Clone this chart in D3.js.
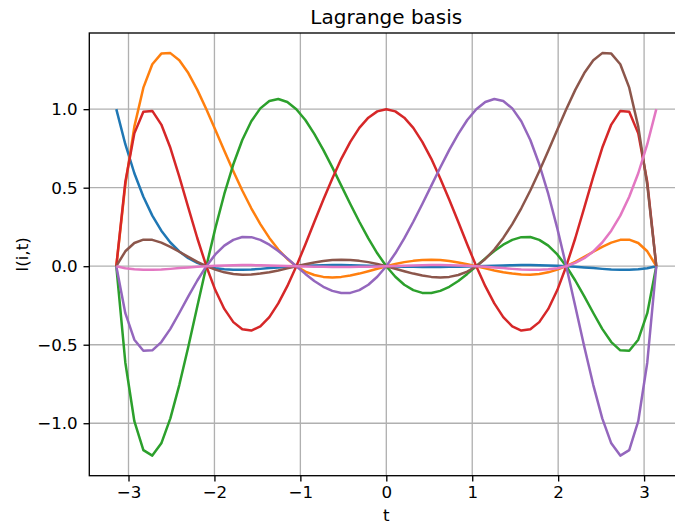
<!DOCTYPE html>
<html>
<head>
<meta charset="utf-8">
<script src="https://cdn.jsdelivr.net/npm/d3@7"></script>
<style>
  body { margin: 0; background: #fff; }
  svg { display: block; font-family: "DejaVu Sans", sans-serif; }
</style>
</head>
<body>
<div id="chart"></div>
<script>
// sample positions along t (61 points from -pi to pi)
const tValues = [
  -3.142, -3.037, -2.932, -2.827, -2.723, -2.618, -2.513, -2.409, -2.304, -2.199,
  -2.094, -1.990, -1.885, -1.780, -1.676, -1.571, -1.466, -1.361, -1.257, -1.152,
  -1.047, -0.942, -0.838, -0.733, -0.628, -0.524, -0.419, -0.314, -0.209, -0.105,
  0,
  0.105, 0.209, 0.314, 0.419, 0.524, 0.628, 0.733, 0.838, 0.942, 1.047,
  1.152, 1.257, 1.361, 1.466, 1.571, 1.676, 1.780, 1.885, 1.990, 2.094,
  2.199, 2.304, 2.409, 2.513, 2.618, 2.723, 2.827, 2.932, 3.037, 3.142
];

// l(i,t), one list per basis function
const l0 = [
  1, 0.777, 0.592, 0.442, 0.322, 0.226, 0.151, 0.094, 0.051, 0.021,
  0, -0.013, -0.020, -0.023, -0.023, -0.021, -0.017, -0.012, -0.008, -0.004,
  0, 0.003, 0.005, 0.006, 0.007, 0.007, 0.006, 0.005, 0.003, 0.002,
  0, -0.002, -0.003, -0.004, -0.005, -0.005, -0.005, -0.004, -0.003, -0.002,
  0, 0.002, 0.003, 0.005, 0.006, 0.007, 0.007, 0.006, 0.005, 0.003,
  0, -0.004, -0.008, -0.012, -0.017, -0.021, -0.023, -0.023, -0.020, -0.013, 0
];
const l1 = [
  0, 0.518, 0.889, 1.137, 1.286, 1.354, 1.357, 1.312, 1.230, 1.123,
  1, 0.869, 0.735, 0.605, 0.482, 0.369, 0.268, 0.180, 0.106, 0.046,
  0, -0.034, -0.056, -0.068, -0.072, -0.068, -0.059, -0.047, -0.032, -0.016,
  0, 0.014, 0.026, 0.034, 0.040, 0.041, 0.039, 0.033, 0.024, 0.013,
  0, -0.014, -0.027, -0.038, -0.047, -0.053, -0.054, -0.049, -0.039, -0.022,
  0, 0.027, 0.059, 0.092, 0.123, 0.150, 0.168, 0.169, 0.148, 0.095, 0
];
const l2 = [
  0, -0.613, -0.987, -1.171, -1.206, -1.128, -0.969, -0.757, -0.513, -0.255,
  0, 0.241, 0.460, 0.649, 0.804, 0.923, 1.005, 1.052, 1.065, 1.046,
  1, 0.931, 0.843, 0.741, 0.629, 0.513, 0.396, 0.283, 0.177, 0.082,
  0, -0.067, -0.118, -0.152, -0.170, -0.171, -0.157, -0.131, -0.094, -0.049,
  0, 0.050, 0.097, 0.137, 0.168, 0.185, 0.186, 0.168, 0.131, 0.075,
  0, -0.091, -0.192, -0.298, -0.399, -0.483, -0.536, -0.538, -0.468, -0.299, 0
];
const l3 = [
  0, 0.536, 0.846, 0.983, 0.989, 0.902, 0.754, 0.570, 0.373, 0.178,
  0, -0.152, -0.272, -0.356, -0.402, -0.410, -0.383, -0.324, -0.237, -0.127,
  0, 0.138, 0.281, 0.423, 0.559, 0.684, 0.792, 0.881, 0.946, 0.986,
  1, 0.986, 0.946, 0.881, 0.792, 0.684, 0.559, 0.423, 0.281, 0.138,
  0, -0.127, -0.237, -0.324, -0.383, -0.410, -0.402, -0.356, -0.272, -0.152,
  0, 0.178, 0.373, 0.570, 0.754, 0.902, 0.989, 0.983, 0.846, 0.536, 0
];
const l4 = [
  0, -0.299, -0.468, -0.538, -0.536, -0.483, -0.399, -0.298, -0.192, -0.091,
  0, 0.075, 0.131, 0.168, 0.186, 0.185, 0.168, 0.137, 0.097, 0.050,
  0, -0.049, -0.094, -0.131, -0.157, -0.171, -0.170, -0.152, -0.118, -0.067,
  0, 0.082, 0.177, 0.283, 0.396, 0.513, 0.629, 0.741, 0.843, 0.931,
  1, 1.046, 1.065, 1.052, 1.005, 0.923, 0.804, 0.649, 0.460, 0.241,
  0, -0.255, -0.513, -0.757, -0.969, -1.128, -1.206, -1.171, -0.987, -0.613, 0
];
const l5 = [
  0, 0.095, 0.148, 0.169, 0.168, 0.150, 0.123, 0.092, 0.059, 0.027,
  0, -0.022, -0.039, -0.049, -0.054, -0.053, -0.047, -0.038, -0.027, -0.014,
  0, 0.013, 0.024, 0.033, 0.039, 0.041, 0.040, 0.034, 0.026, 0.014,
  0, -0.016, -0.032, -0.047, -0.059, -0.068, -0.072, -0.068, -0.056, -0.034,
  0, 0.046, 0.106, 0.180, 0.268, 0.369, 0.482, 0.605, 0.735, 0.869,
  1, 1.123, 1.230, 1.312, 1.357, 1.354, 1.286, 1.137, 0.889, 0.518, 0
];
const l6 = [
  0, -0.013, -0.020, -0.023, -0.023, -0.021, -0.017, -0.012, -0.008, -0.004,
  0, 0.003, 0.005, 0.006, 0.007, 0.007, 0.006, 0.005, 0.003, 0.002,
  0, -0.002, -0.003, -0.004, -0.005, -0.005, -0.005, -0.004, -0.003, -0.002,
  0, 0.002, 0.003, 0.005, 0.006, 0.007, 0.007, 0.006, 0.005, 0.003,
  0, -0.004, -0.008, -0.012, -0.017, -0.021, -0.023, -0.023, -0.020, -0.013,
  0, 0.021, 0.051, 0.094, 0.151, 0.226, 0.322, 0.442, 0.592, 0.777, 1
];

const series = [l0, l1, l2, l3, l4, l5, l6];
const xTicks = [-3, -2, -1, 0, 1, 2, 3];
const yTicks = [-1.0, -0.5, 0.0, 0.5, 1.0];
const colors = ["#1f77b4", "#ff7f0e", "#2ca02c", "#d62728", "#9467bd", "#8c564b", "#e377c2"];

let width = 675,
    height = 523,
    margin = ({ top: 33, left: 89.3 }),
    plotW = 594,   // axes run past the right edge of the picture, as in the original
    plotH = 442.7;

const svg = d3.select("#chart")
  .append("svg")
  .attr("width", width)
  .attr("height", height);

// 5% padding around the data, matplotlib style
function padded(ext) {
  let m = (ext[1] - ext[0]) * 0.05;
  return [ext[0] - m, ext[1] + m];
}

let x = d3.scaleLinear()
  .domain(padded(d3.extent(tValues)))
  .range([margin.left, margin.left + plotW]);

let y = d3.scaleLinear()
  .domain(padded(d3.extent(series.flat())))
  .range([margin.top + plotH, margin.top]);

// grid
let grid = svg.append("g").attr("stroke", "#b0b0b0").attr("stroke-width", 1.33);
grid.selectAll(".gx").data(xTicks).join("line")
  .attr("x1", d => x(d)).attr("x2", d => x(d))
  .attr("y1", margin.top).attr("y2", margin.top + plotH);
grid.selectAll(".gy").data(yTicks).join("line")
  .attr("x1", margin.left).attr("x2", margin.left + plotW)
  .attr("y1", d => y(d)).attr("y2", d => y(d));

// curves
let line = d3.line()
  .x((d, i) => x(tValues[i]))
  .y(d => y(d));

series.forEach((s, k) => {
  svg.append("path")
    .datum(s)
    .attr("fill", "none")
    .attr("stroke", colors[k])
    .attr("stroke-width", 2.5)
    .attr("stroke-linejoin", "round")
    .attr("stroke-linecap", "butt")
    .attr("d", line);
});

// axes
let xAxis = svg.append("g")
  .attr("transform", `translate(0,${margin.top + plotH})`)
  .call(d3.axisBottom(x).tickValues(xTicks).tickFormat(d3.format("d")).tickSize(5.8).tickPadding(5).tickSizeOuter(0));

let yAxis = svg.append("g")
  .attr("transform", `translate(${margin.left},0)`)
  .call(d3.axisLeft(y).tickValues(yTicks).tickFormat(d3.format(".1f")).tickSize(5.8).tickPadding(5.8).tickSizeOuter(0));

for (let ax of [xAxis, yAxis]) {
  ax.selectAll("text")
    .attr("font-size", 16.7)
    .attr("font-family", "DejaVu Sans")
    .attr("fill", "#000");
  ax.selectAll("line").attr("stroke", "#000").attr("stroke-width", 1.33);
  ax.select(".domain").remove();
}

// spines (right one falls outside the picture)
svg.append("rect")
  .attr("x", margin.left)
  .attr("y", margin.top)
  .attr("width", plotW)
  .attr("height", plotH)
  .attr("fill", "none")
  .attr("stroke", "#000")
  .attr("stroke-width", 1.33);

// titles
svg.append("text")
  .text("Lagrange basis")
  .attr("x", margin.left + plotW / 2)
  .attr("y", 23.5)
  .attr("text-anchor", "middle")
  .attr("font-size", 20);

svg.append("text")
  .text("t")
  .attr("x", margin.left + plotW / 2)
  .attr("y", 520.5)
  .attr("text-anchor", "middle")
  .attr("font-size", 16.7);

svg.append("text")
  .text("l(i,t)")
  .attr("transform", `translate(28,${margin.top + plotH / 2}) rotate(-90)`)
  .attr("text-anchor", "middle")
  .attr("font-size", 16.7);
</script>
</body>
</html>
